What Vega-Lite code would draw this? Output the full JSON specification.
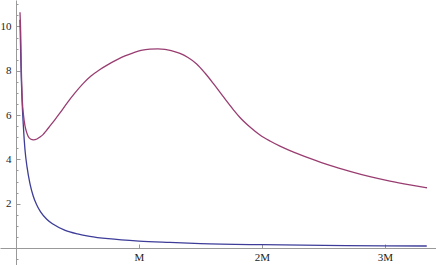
{
  "$schema": "https://vega.github.io/schema/vega-lite/v6.json",
  "width": 436,
  "height": 265,
  "autosize": {"type": "none"},
  "padding": 0,
  "config": {"view": {"stroke": null}},
  "data": {"values": [
    {"s": "a", "x": 0.0325, "y": 10.3},
    {"s": "a", "x": 0.04, "y": 8.3},
    {"s": "a", "x": 0.05, "y": 6.6},
    {"s": "a", "x": 0.06, "y": 5.5},
    {"s": "a", "x": 0.073, "y": 4.45},
    {"s": "a", "x": 0.09, "y": 3.65},
    {"s": "a", "x": 0.114, "y": 2.9},
    {"s": "a", "x": 0.14, "y": 2.35},
    {"s": "a", "x": 0.168, "y": 1.95},
    {"s": "a", "x": 0.2, "y": 1.63},
    {"s": "a", "x": 0.25, "y": 1.3},
    {"s": "a", "x": 0.3, "y": 1.08},
    {"s": "a", "x": 0.4, "y": 0.8},
    {"s": "a", "x": 0.5, "y": 0.64},
    {"s": "a", "x": 0.6, "y": 0.53},
    {"s": "a", "x": 0.75, "y": 0.42},
    {"s": "a", "x": 1.0, "y": 0.31},
    {"s": "a", "x": 1.25, "y": 0.25},
    {"s": "a", "x": 1.5, "y": 0.2},
    {"s": "a", "x": 2.0, "y": 0.15},
    {"s": "a", "x": 2.5, "y": 0.12},
    {"s": "a", "x": 3.0, "y": 0.1},
    {"s": "a", "x": 3.34, "y": 0.09},
    {"s": "b", "x": 0.0325, "y": 10.64},
    {"s": "b", "x": 0.0382, "y": 9.71},
    {"s": "b", "x": 0.0431, "y": 8.17},
    {"s": "b", "x": 0.0512, "y": 6.68},
    {"s": "b", "x": 0.061, "y": 6.0},
    {"s": "b", "x": 0.0732, "y": 5.51},
    {"s": "b", "x": 0.0854, "y": 5.24},
    {"s": "b", "x": 0.0976, "y": 5.06},
    {"s": "b", "x": 0.1179, "y": 4.92},
    {"s": "b", "x": 0.1423, "y": 4.88},
    {"s": "b", "x": 0.1707, "y": 4.92},
    {"s": "b", "x": 0.1951, "y": 5.01},
    {"s": "b", "x": 0.2195, "y": 5.12},
    {"s": "b", "x": 0.2439, "y": 5.28},
    {"s": "b", "x": 0.2764, "y": 5.51},
    {"s": "b", "x": 0.3171, "y": 5.8},
    {"s": "b", "x": 0.3577, "y": 6.1},
    {"s": "b", "x": 0.4122, "y": 6.52},
    {"s": "b", "x": 0.4797, "y": 7.0},
    {"s": "b", "x": 0.5472, "y": 7.43},
    {"s": "b", "x": 0.6098, "y": 7.76},
    {"s": "b", "x": 0.6829, "y": 8.06},
    {"s": "b", "x": 0.748, "y": 8.28},
    {"s": "b", "x": 0.8187, "y": 8.49},
    {"s": "b", "x": 0.8862, "y": 8.67},
    {"s": "b", "x": 0.9537, "y": 8.81},
    {"s": "b", "x": 1.0163, "y": 8.92},
    {"s": "b", "x": 1.0894, "y": 8.98},
    {"s": "b", "x": 1.1545, "y": 8.99},
    {"s": "b", "x": 1.2114, "y": 8.97},
    {"s": "b", "x": 1.2683, "y": 8.9},
    {"s": "b", "x": 1.3333, "y": 8.79},
    {"s": "b", "x": 1.3984, "y": 8.6},
    {"s": "b", "x": 1.4691, "y": 8.31},
    {"s": "b", "x": 1.5366, "y": 7.9},
    {"s": "b", "x": 1.6041, "y": 7.43},
    {"s": "b", "x": 1.6854, "y": 6.83},
    {"s": "b", "x": 1.7667, "y": 6.25},
    {"s": "b", "x": 1.8211, "y": 5.89},
    {"s": "b", "x": 1.9024, "y": 5.46},
    {"s": "b", "x": 1.9837, "y": 5.1},
    {"s": "b", "x": 2.065, "y": 4.83},
    {"s": "b", "x": 2.1463, "y": 4.6},
    {"s": "b", "x": 2.2276, "y": 4.4},
    {"s": "b", "x": 2.3089, "y": 4.22},
    {"s": "b", "x": 2.3902, "y": 4.05},
    {"s": "b", "x": 2.5528, "y": 3.73},
    {"s": "b", "x": 2.7154, "y": 3.46},
    {"s": "b", "x": 2.878, "y": 3.22},
    {"s": "b", "x": 3.0407, "y": 3.02},
    {"s": "b", "x": 3.2033, "y": 2.85},
    {"s": "b", "x": 3.3415, "y": 2.72}
  ]},
  "resolve": {"axis": {"x": "independent", "y": "independent"}},
  "layer": [
    {
      "mark": {"type": "line", "strokeWidth": 1.3, "interpolate": "monotone"},
      "encoding": {
        "x": {"field": "x", "type": "quantitative",
          "scale": {"domain": [-0.13, 3.415], "nice": false, "zero": false},
          "axis": {"orient": "bottom", "offset": -17, "values": [1, 2, 3],
            "labelExpr": "datum.value == 1 ? 'M' : datum.value + 'M'",
            "ticks": false, "grid": false, "domainColor": "#999999", "domainWidth": 1,
            "labelFont": "Liberation Serif", "labelFontSize": 11, "labelColor": "#222222",
            "labelPadding": 3, "title": null}},
        "y": {"field": "y", "type": "quantitative",
          "scale": {"domain": [-0.767, 11.196], "nice": false, "zero": false},
          "axis": {"orient": "left", "offset": -16, "values": [2, 4, 6, 8, 10],
            "ticks": false, "grid": false, "domainColor": "#999999", "domainWidth": 1,
            "labelFont": "Liberation Serif", "labelFontSize": 11, "labelColor": "#222222",
            "labelPadding": 5, "labelAlign": "right", "title": null}},
        "color": {"field": "s", "type": "nominal",
          "scale": {"domain": ["a", "b"], "range": ["#3d3d99", "#993d71"]},
          "legend": null}
      }
    },
    {
      "mark": {"type": "line", "opacity": 0},
      "encoding": {
        "x": {"field": "x", "type": "quantitative",
          "axis": {"orient": "bottom", "offset": -17, "values": [1, 2, 3],
            "labels": false, "domain": false, "grid": false, "tickSize": -4,
            "tickColor": "#999999", "title": null}},
        "y": {"field": "y", "type": "quantitative",
          "axis": {"orient": "left", "offset": -16,
            "values": [-0.5, 0.5, 1, 1.5, 2, 2.5, 3, 3.5, 4, 4.5, 5, 5.5, 6, 6.5, 7, 7.5, 8, 8.5, 9, 9.5, 10, 10.5, 11],
            "labels": false, "domain": false, "grid": false,
            "tickSize": {"condition": {"test": "datum.value % 2 === 0", "value": -4}, "value": -2},
            "tickColor": "#999999", "title": null}},
        "detail": {"field": "s"}
      }
    }
  ]
}
